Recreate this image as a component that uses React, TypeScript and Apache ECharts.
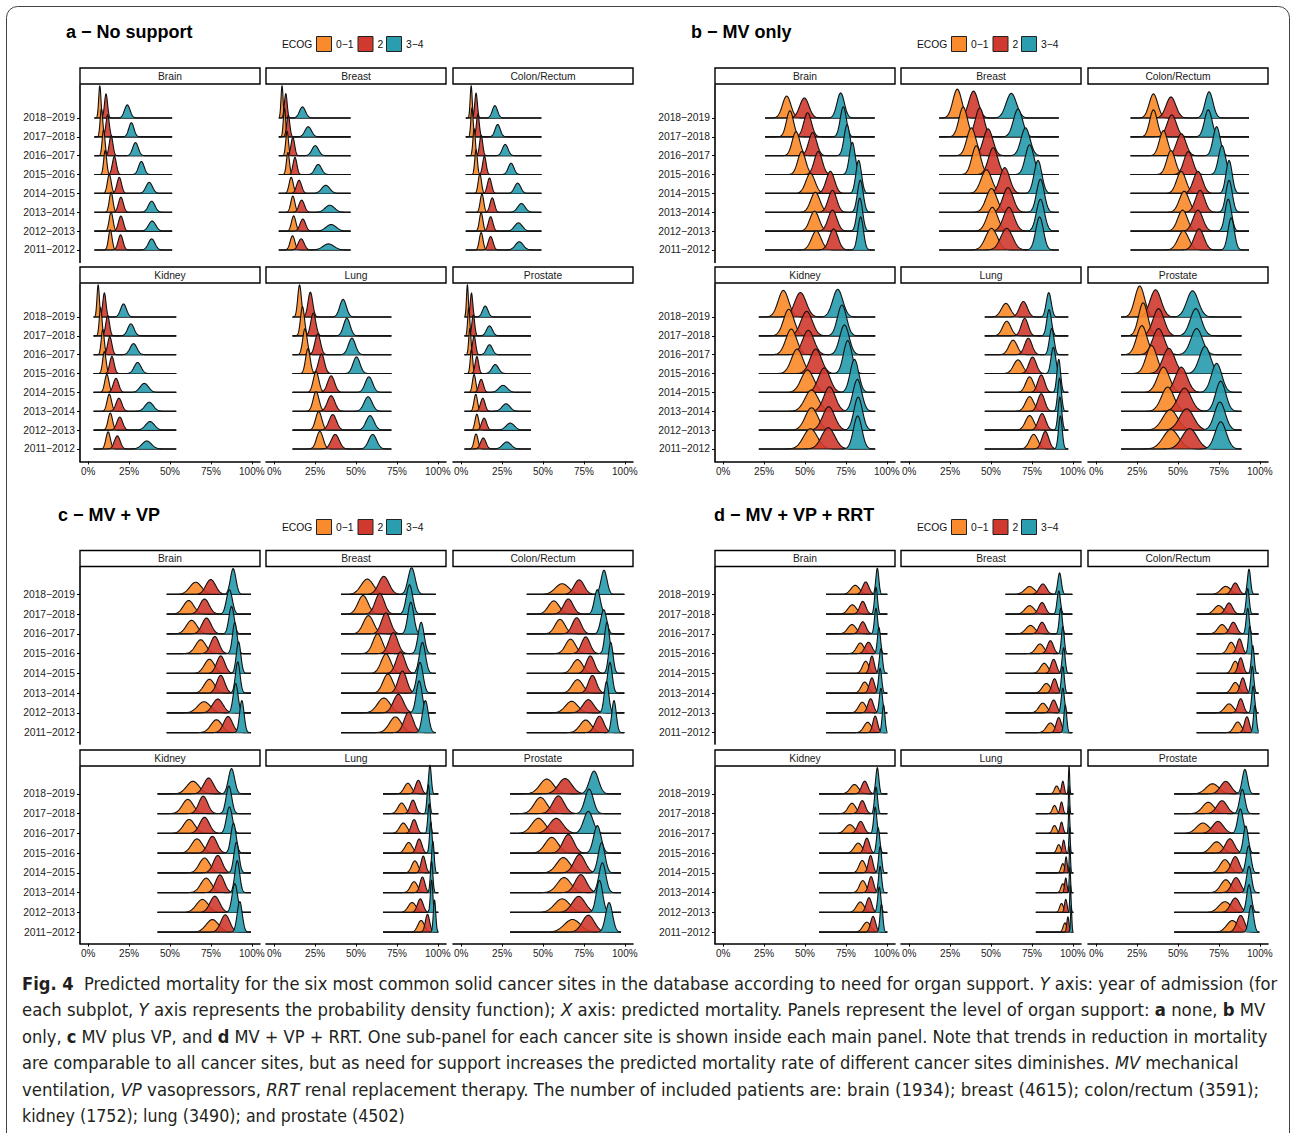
import React, { useEffect, useRef } from "react";
import * as echarts from "echarts";

// ---------- categories ----------
const YEARS = ["2011−2012", "2012−2013", "2013−2014", "2014−2015", "2015−2016", "2016−2017", "2017−2018", "2018−2019"];
const SITES = ["Brain", "Breast", "Colon/Rectum", "Kidney", "Lung", "Prostate"];
const ECOG_LEVELS = ["0−1", "2", "3−4"];
const X_TICKS = [0, 25, 50, 75, 100];
const Y_TICKS = [0, 1, 2, 3, 4, 5, 6, 7];
const PANEL_TITLES = ["a − No support", "b − MV only", "c − MV + VP", "d − MV + VP + RRT"];

// ---------- data: mode (%) and spread (sd, %) of predicted mortality, per ECOG [0−1, 2, 3−4], years 2011−2012 … 2018−2019 ----------
// Panel a – No support
const A_BRAIN_MODE = [[13.5, 14, 14, 12.9, 10.4, 9.4, 8.1, 7.1], [19.8, 20, 20, 19, 16, 14, 11.9, 10.9], [38.8, 39.1, 38.8, 37.3, 32.5, 28.9, 26.4, 23.9]];
const A_BRAIN_SD = [[1.1, 1.16, 1.1, 1.16, 0.92, 0.85, 0.79, 0.69], [1.47, 1.47, 1.47, 1.38, 1.22, 1.1, 1.0, 0.92], [2.0, 2.2, 2.0, 2.0, 1.69, 1.69, 1.57, 1.69]];
const A_BRAIN_RANGE = [3.8, 51.3];
const A_BREAST_MODE = [[11.2, 11.9, 11.4, 10.4, 8.4, 7.9, 6.3, 4.8], [16.5, 17.5, 16.8, 15.2, 12.7, 11.4, 8.6, 7.1], [33.2, 34.8, 34, 31.5, 26.9, 25.1, 20.8, 17.3]];
const A_BREAST_SD = [[1.43, 1.33, 1.25, 1.25, 0.91, 0.83, 0.71, 0.63], [1.82, 1.67, 1.67, 1.54, 1.18, 1.11, 0.95, 0.83], [3.33, 3.08, 2.86, 2.5, 2.0, 2.0, 2.0, 1.82]];
const A_BREAST_RANGE = [2.8, 46.7];
const A_COLON_MODE = [[12.2, 12.2, 12.7, 11.4, 9.1, 7.9, 6.6, 6.1], [18, 18, 19, 17.3, 14.2, 12.2, 10.2, 9.1], [35.5, 35, 36.8, 34.5, 30.5, 26.9, 22.3, 20.6]];
const A_COLON_SD = [[1.12, 1.06, 1.06, 1.0, 0.79, 0.73, 0.68, 0.61], [1.46, 1.36, 1.36, 1.27, 1.06, 0.95, 0.86, 0.79], [2.38, 2.38, 2.24, 1.9, 1.73, 1.73, 1.58, 1.58]];
const A_COLON_RANGE = [2.8, 49];
const A_KIDNEY_MODE = [[12.2, 13.5, 12.9, 11.4, 9.9, 8.9, 7.6, 6.1], [17.8, 19.3, 18.8, 17, 14.5, 13.2, 11.9, 9.9], [35.8, 37.8, 37.3, 34.3, 30.2, 27.7, 26.1, 21.6]];
const A_KIDNEY_SD = [[1.35, 1.35, 1.35, 1.28, 1.05, 0.92, 0.82, 0.72], [1.77, 1.77, 1.77, 1.64, 1.35, 1.28, 1.15, 0.96], [2.88, 2.71, 2.56, 2.56, 2.09, 2.09, 1.92, 1.77]];
const A_KIDNEY_RANGE = [3.3, 53.8];
const A_LUNG_MODE = [[27.9, 27.2, 25.6, 25.6, 20.6, 18.8, 17.3, 15.5], [37.3, 35.8, 34.8, 34.8, 28.9, 26.6, 23.9, 22.1], [60.2, 58.6, 57.4, 57.9, 50.3, 47.5, 44.4, 42.1]];
const A_LUNG_SD = [[2.0, 1.89, 1.79, 1.7, 1.42, 1.36, 1.21, 1.1], [2.43, 2.27, 2.27, 2.13, 1.79, 1.7, 1.55, 1.42], [2.43, 2.43, 2.43, 2.27, 2.13, 2.13, 2.0, 2.0]];
const A_LUNG_RANGE = [11.2, 71.6];
const A_PROSTATE_MODE = [[9.1, 9.6, 8.9, 7.9, 6.3, 5.3, 4.6, 3.8], [13.5, 14, 13.2, 12.2, 9.6, 7.9, 7.4, 6.3], [27.9, 30, 27.4, 25.6, 20.8, 17.3, 17.3, 14.7]];
const A_PROSTATE_SD = [[1.2, 1.13, 1.06, 1.0, 0.75, 0.69, 0.64, 0.56], [1.64, 1.5, 1.38, 1.38, 1.06, 0.95, 0.86, 0.75], [2.57, 2.57, 2.4, 2.57, 2.0, 1.8, 1.8, 1.64]];
const A_PROSTATE_RANGE = [2, 42.6];

// Panel b – MV only
const B_BRAIN_MODE = [[56.9, 55.8, 56.3, 53.3, 48, 44.5, 40.8, 38.8], [67.5, 66.8, 66.8, 65.5, 58.1, 54.7, 51.6, 49.6], [84, 83.5, 83.8, 82.8, 78.9, 75.7, 73.4, 71.8]];
const B_BRAIN_SD = [[2.95, 2.8, 2.8, 2.8, 2.43, 2.33, 2.15, 2.55], [2.67, 2.67, 2.55, 2.55, 2.43, 2.43, 2.33, 2.8], [1.7, 1.7, 1.75, 1.7, 1.75, 1.81, 1.87, 2.24]];
const B_BRAIN_RANGE = [25.6, 92.6];
const B_BREAST_MODE = [[50.3, 50.8, 50.3, 47.2, 41, 38, 33, 29.4], [59.6, 60.9, 60.4, 58.4, 51.3, 48.2, 43.1, 39.3], [79.7, 80.2, 80.2, 78.7, 73.6, 71.1, 66.5, 62.4]];
const B_BREAST_SD = [[3.57, 3.26, 3.26, 3.26, 2.68, 2.78, 2.59, 2.68], [3.57, 3.26, 3.13, 3.0, 2.88, 2.88, 2.68, 2.88], [2.34, 2.42, 2.34, 2.34, 2.59, 2.78, 2.78, 3.13]];
const B_BREAST_RANGE = [18.3, 91.4];
const B_COLON_MODE = [[53.3, 52.8, 53.8, 52, 45.7, 41.1, 35, 35], [62.9, 62.2, 63.5, 62.2, 56.3, 52, 46.2, 45.7], [82.5, 80.7, 81.2, 81.2, 76.9, 73.6, 68.5, 69]];
const B_COLON_SD = [[3.26, 2.95, 2.95, 2.82, 2.58, 2.48, 2.3, 2.58], [2.95, 2.95, 2.82, 2.82, 2.7, 2.82, 2.82, 2.95], [1.94, 1.94, 1.94, 1.88, 2.14, 2.14, 2.3, 2.38]];
const B_COLON_RANGE = [21, 93.4];
const B_KIDNEY_MODE = [[53.3, 54, 54, 51.5, 45.2, 41.6, 40.1, 36.8], [64.2, 64.5, 65, 61.7, 56.6, 52, 51, 47.2], [82.2, 82.5, 82, 80.2, 76.1, 74.1, 72.6, 70]];
const B_KIDNEY_SD = [[4.21, 3.81, 4.0, 3.81, 3.48, 3.33, 3.2, 3.2], [4.0, 3.64, 3.48, 3.48, 3.48, 3.48, 3.48, 3.48], [2.58, 2.58, 2.67, 2.58, 2.58, 2.86, 2.76, 3.08]];
const B_KIDNEY_RANGE = [21.8, 92.9];
const B_LUNG_MODE = [[76.1, 73.6, 73.6, 73.6, 66.5, 63.5, 59.6, 59.1], [83.2, 81.2, 80.7, 80.7, 75.4, 72.8, 70.6, 69.8], [92.4, 92.1, 91.9, 91.4, 88.1, 87.1, 85.5, 85.3]];
const B_LUNG_SD = [[2.53, 2.53, 2.53, 2.38, 2.71, 2.53, 2.53, 2.71], [2.11, 2.24, 2.11, 2.11, 2.24, 2.24, 2.11, 2.38], [1.12, 1.12, 1.12, 1.12, 1.41, 1.41, 1.41, 1.52]];
const B_LUNG_RANGE = [46.2, 97.2];
const B_PROSTATE_MODE = [[45.7, 45.2, 43.7, 41.1, 33.8, 27.9, 28.7, 26.6], [57.1, 55.3, 54, 52, 44.4, 38.1, 38.1, 36.3], [76.1, 75.6, 76.1, 73.6, 66.5, 61.4, 60.9, 58.9]];
const B_PROSTATE_SD = [[4.75, 4.52, 3.8, 3.65, 3.28, 3.17, 2.79, 2.97], [4.52, 4.32, 3.96, 3.65, 3.65, 3.52, 3.39, 3.39], [3.39, 3.28, 3.06, 3.17, 3.39, 3.52, 3.39, 3.52]];
const B_PROSTATE_RANGE = [15.2, 88.8];

// Panel c – MV + VP
const C_BRAIN_MODE = [[78.4, 70.8, 74.1, 74.1, 68.8, 63.2, 61.4, 65.7], [85.5, 79.2, 81, 81, 77.4, 72.3, 71.1, 74.9], [93.9, 90.1, 91.4, 91.9, 89.6, 87.6, 86.3, 88.6]];
const C_BRAIN_SD = [[3.38, 3.89, 3.14, 3.08, 3.14, 3.21, 3.21, 3.58], [2.7, 3.14, 2.44, 2.49, 2.54, 2.75, 2.88, 2.93], [1.36, 1.48, 1.39, 1.38, 1.41, 1.59, 1.78, 1.69]];
const C_BRAIN_RANGE = [48, 99.5];
const C_BREAST_MODE = [[74.1, 67, 69.5, 68.3, 63.2, 57.6, 54.3, 56.9], [82.2, 75.9, 78.4, 77.2, 72.8, 68.3, 64.5, 67], [92.4, 88.6, 89.1, 90.6, 89.8, 83.5, 82.7, 84]];
const C_BREAST_SD = [[3.65, 3.85, 2.99, 2.94, 2.89, 3.13, 3.07, 3.76], [2.78, 3.07, 2.59, 2.67, 2.73, 2.73, 2.78, 3.18], [1.79, 1.79, 1.87, 1.85, 1.83, 1.81, 1.95, 2.15]];
const C_BREAST_RANGE = [40.9, 98.7];
const C_COLON_MODE = [[76.1, 67.5, 71.1, 71.1, 66.8, 60.4, 56.6, 61.7], [84.5, 77.7, 80.2, 78.9, 76.1, 70.6, 65.5, 72.1], [93.4, 88.8, 90.9, 91.4, 89.1, 87.1, 83.2, 87.3]];
const C_COLON_SD = [[3.46, 3.75, 3.21, 3.15, 3.0, 3.0, 3.28, 4.09], [2.65, 3.28, 2.46, 2.5, 2.6, 2.69, 2.87, 3.0], [1.36, 1.39, 1.42, 1.41, 1.39, 1.8, 1.78, 1.8]];
const C_COLON_RANGE = [40.1, 99.7];
const C_KIDNEY_MODE = [[75.9, 69.8, 72.1, 71.1, 66.5, 61.7, 60.9, 64], [83.8, 77.4, 80.5, 79.2, 75.9, 71.1, 70.3, 73.6], [92.6, 89.6, 91.1, 90.6, 88.8, 86.3, 86, 87.6]];
const C_KIDNEY_SD = [[3.76, 3.65, 3.27, 3.18, 3.33, 3.4, 3.33, 3.76], [2.73, 2.94, 2.67, 2.73, 2.82, 2.94, 2.73, 2.99], [1.55, 1.65, 1.48, 1.55, 1.58, 1.79, 1.72, 1.87]];
const C_KIDNEY_RANGE = [42.4, 99.5];
const C_LUNG_MODE = [[89.8, 84.3, 85.5, 86, 82.2, 78.9, 77.9, 81.7], [93.7, 89.3, 90.6, 91.1, 88.6, 85.5, 84.8, 88.1], [98, 96.2, 96.2, 97, 95.7, 94.7, 94.2, 95.2]];
const C_LUNG_SD = [[2.0, 2.37, 2.14, 1.95, 2.2, 2.27, 2.2, 2.2], [1.32, 1.73, 1.5, 1.4, 1.65, 1.69, 1.73, 1.73], [0.73, 0.73, 0.75, 0.74, 0.75, 0.79, 0.81, 0.82]];
const C_LUNG_RANGE = [66.5, 100.3];
const C_PROSTATE_MODE = [[68, 61.7, 62.9, 62.4, 55.3, 47.2, 48.5, 52.3], [77.7, 71.8, 73.1, 72.3, 65.5, 58.1, 59.4, 63.5], [90.4, 84.5, 86.3, 85.8, 83.2, 77.7, 78.2, 81.2]];
const C_PROSTATE_SD = [[4.9, 4.58, 4.12, 4.05, 3.95, 4.12, 3.83, 4.19], [3.68, 3.89, 3.45, 3.38, 3.33, 4.12, 3.5, 4.05], [2.1, 1.94, 2.08, 2.06, 2.26, 2.83, 2.53, 2.72]];
const C_PROSTATE_RANGE = [29.9, 97.7];

// Panel d – MV + VP + RRT
const D_BRAIN_MODE = [[88.3, 85, 86.5, 87.1, 83.8, 78.7, 78.9, 80.7], [92.9, 90.1, 90.9, 90.9, 88.8, 85.3, 85.3, 87.1], [98, 96.4, 95.9, 96.4, 95.2, 93.4, 93.4, 94.2]];
const D_BRAIN_SD = [[2.3, 2.23, 2.15, 1.97, 2.23, 2.56, 2.56, 2.64], [1.44, 1.68, 1.56, 1.38, 2.09, 1.97, 1.87, 1.92], [0.86, 0.97, 0.96, 0.96, 0.91, 0.93, 0.89, 0.91]];
const D_BRAIN_RANGE = [62.9, 100.3];
const D_BREAST_MODE = [[86.3, 81.7, 83.8, 82.5, 79.9, 74.1, 73.6, 73.6], [91.4, 88.3, 88.8, 88.3, 86.3, 81.2, 81.2, 81.7], [95.4, 93.9, 93.9, 94.4, 93.9, 92.6, 91.4, 91.9]];
const D_BREAST_SD = [[2.43, 2.43, 2.43, 2.34, 2.43, 2.78, 2.78, 3.01], [1.56, 1.82, 1.63, 1.67, 1.82, 2.03, 2.03, 2.27], [0.85, 0.95, 0.89, 0.92, 0.87, 0.92, 1.01, 1.1]];
const D_BREAST_RANGE = [58.9, 99.7];
const D_COLON_MODE = [[86.5, 81.2, 85, 85, 82.5, 76.9, 74.9, 79.2], [92.1, 88.3, 89.6, 88.3, 87.6, 83.8, 81.2, 85], [97, 95.9, 95.4, 95.7, 93.9, 92.6, 92.6, 93.4]];
const D_COLON_SD = [[2.23, 2.64, 2.23, 1.97, 2.09, 2.56, 2.77, 2.99], [1.5, 1.68, 1.56, 1.53, 1.61, 2.04, 2.15, 2.09], [0.88, 0.89, 0.89, 0.86, 0.87, 0.93, 0.93, 0.95]];
const D_COLON_RANGE = [61.4, 99.2];
const D_KIDNEY_MODE = [[87.8, 83.8, 85.3, 85, 82.5, 77.4, 78.7, 80.2], [91.6, 89.1, 90.4, 90.1, 87.8, 84, 85, 86.5], [96.7, 95.4, 95.9, 95.9, 94.7, 92.9, 93.4, 94.2]];
const D_KIDNEY_SD = [[2.4, 2.33, 2.0, 1.95, 2.4, 2.76, 2.33, 2.58], [1.53, 1.63, 1.5, 1.39, 1.6, 2.0, 1.85, 1.89], [0.87, 0.95, 0.92, 0.91, 0.95, 0.92, 0.91, 0.92]];
const D_KIDNEY_RANGE = [58.6, 100.3];
const D_LUNG_MODE = [[95.2, 93.1, 93.9, 93.9, 91.4, 88.8, 88.8, 90.1], [97, 95.7, 95.7, 95.9, 94.4, 93.1, 93.1, 93.9], [99, 98.5, 98.2, 98.2, 98, 97.7, 97.7, 97.7]];
const D_LUNG_SD = [[1.11, 1.15, 1.15, 1.11, 1.2, 1.3, 1.25, 1.3], [0.67, 0.79, 0.7, 0.64, 0.79, 0.91, 0.88, 0.81], [0.39, 0.38, 0.4, 0.39, 0.4, 0.38, 0.38, 0.37]];
const D_LUNG_RANGE = [77.4, 100.3];
const D_PROSTATE_MODE = [[83.2, 78.7, 79.2, 78.7, 73.6, 65.2, 68.5, 71.1], [88.3, 85, 85.5, 85, 81.7, 74.4, 76.9, 79.2], [94.7, 93.4, 93.4, 93.1, 91.4, 88.1, 89.3, 90.9]];
const D_PROSTATE_SD = [[3.41, 3.72, 3.07, 3.0, 3.5, 3.82, 3.5, 3.93], [2.37, 2.75, 2.63, 2.43, 2.75, 3.31, 3.07, 3.16], [1.48, 1.43, 1.5, 1.48, 1.46, 1.62, 1.63, 1.62]];
const D_PROSTATE_RANGE = [47.7, 99.7];

const PANEL_DATA = [
  [
    { mode: A_BRAIN_MODE, sd: A_BRAIN_SD, range: A_BRAIN_RANGE },
    { mode: A_BREAST_MODE, sd: A_BREAST_SD, range: A_BREAST_RANGE },
    { mode: A_COLON_MODE, sd: A_COLON_SD, range: A_COLON_RANGE },
    { mode: A_KIDNEY_MODE, sd: A_KIDNEY_SD, range: A_KIDNEY_RANGE },
    { mode: A_LUNG_MODE, sd: A_LUNG_SD, range: A_LUNG_RANGE },
    { mode: A_PROSTATE_MODE, sd: A_PROSTATE_SD, range: A_PROSTATE_RANGE },
  ],
  [
    { mode: B_BRAIN_MODE, sd: B_BRAIN_SD, range: B_BRAIN_RANGE },
    { mode: B_BREAST_MODE, sd: B_BREAST_SD, range: B_BREAST_RANGE },
    { mode: B_COLON_MODE, sd: B_COLON_SD, range: B_COLON_RANGE },
    { mode: B_KIDNEY_MODE, sd: B_KIDNEY_SD, range: B_KIDNEY_RANGE },
    { mode: B_LUNG_MODE, sd: B_LUNG_SD, range: B_LUNG_RANGE },
    { mode: B_PROSTATE_MODE, sd: B_PROSTATE_SD, range: B_PROSTATE_RANGE },
  ],
  [
    { mode: C_BRAIN_MODE, sd: C_BRAIN_SD, range: C_BRAIN_RANGE },
    { mode: C_BREAST_MODE, sd: C_BREAST_SD, range: C_BREAST_RANGE },
    { mode: C_COLON_MODE, sd: C_COLON_SD, range: C_COLON_RANGE },
    { mode: C_KIDNEY_MODE, sd: C_KIDNEY_SD, range: C_KIDNEY_RANGE },
    { mode: C_LUNG_MODE, sd: C_LUNG_SD, range: C_LUNG_RANGE },
    { mode: C_PROSTATE_MODE, sd: C_PROSTATE_SD, range: C_PROSTATE_RANGE },
  ],
  [
    { mode: D_BRAIN_MODE, sd: D_BRAIN_SD, range: D_BRAIN_RANGE },
    { mode: D_BREAST_MODE, sd: D_BREAST_SD, range: D_BREAST_RANGE },
    { mode: D_COLON_MODE, sd: D_COLON_SD, range: D_COLON_RANGE },
    { mode: D_KIDNEY_MODE, sd: D_KIDNEY_SD, range: D_KIDNEY_RANGE },
    { mode: D_LUNG_MODE, sd: D_LUNG_SD, range: D_LUNG_RANGE },
    { mode: D_PROSTATE_MODE, sd: D_PROSTATE_SD, range: D_PROSTATE_RANGE },
  ],
];

// ---------- caption ----------
const CAPTION_LINES = [
  [["Fig. 4", "b"], ["  Predicted mortality for the six most common solid cancer sites in the database according to need for organ support. ", "n"], ["Y", "i"], [" axis: year of admission (for", "n"]],
  [["each subplot, ", "n"], ["Y", "i"], [" axis represents the probability density function); ", "n"], ["X", "i"], [" axis: predicted mortality. Panels represent the level of organ support: ", "n"], ["a", "b"], [" none, ", "n"], ["b", "b"], [" MV", "n"]],
  [["only, ", "n"], ["c", "b"], [" MV plus VP, and ", "n"], ["d", "b"], [" MV + VP + RRT. One sub-panel for each cancer site is shown inside each main panel. Note that trends in reduction in mortality", "n"]],
  [["are comparable to all cancer sites, but as need for support increases the predicted mortality rate of different cancer sites diminishes. ", "n"], ["MV", "i"], [" mechanical", "n"]],
  [["ventilation, ", "n"], ["VP", "i"], [" vasopressors, ", "n"], ["RRT", "i"], [" renal replacement therapy. The number of included patients are: brain (1934); breast (4615); colon/rectum (3591);", "n"]],
  [["kidney (1752); lung (3490); and prostate (4502)", "n"]],
];

// ---------- layout / style ----------
const W = 1291;
const H = 1133;
const SANS = "'Liberation Sans', Arial, Helvetica, sans-serif";
const FILLS = ["rgba(250,139,44,0.92)", "rgba(208,58,46,0.9)", "rgba(42,157,175,0.92)"];
const SOLIDS = ["#FA8B2C", "#D03A2E", "#2A9DAF"];
const COL_X = [80, 266, 453];
const COL_W = 180;
const STRIP_H = 16;
const PANEL_POS = [
  { dx: 0, titleX: 66, titleY: 32, legendY: 44, rows: [85, 284], gridH: 177.4, ymin: -0.66, ymax: 8.75, scale: 1.7 },
  { dx: 635, titleX: 691, titleY: 32, legendY: 44, rows: [85, 284], gridH: 177.4, ymin: -0.66, ymax: 8.75, scale: 1.75 },
  { dx: 0, titleX: 58, titleY: 514.5, legendY: 527, rows: [567.5, 767], gridH: 176.6, ymin: -0.58, ymax: 8.36, scale: 1.62 },
  { dx: 635, titleX: 714, titleY: 514.5, legendY: 527, rows: [567.5, 767], gridH: 176.6, ymin: -0.58, ymax: 8.36, scale: 1.4 },
];
const CAPTION_X = 22;
const CAPTION_Y = [983, 1009.5, 1036, 1062.5, 1089, 1115.5];
const CAPTION_END = [1278, 1266, 1268, 1240, 1260, 405];

let measureCtx: CanvasRenderingContext2D | null = null;
function textWidth(str: string, font: string) {
  if (!measureCtx) measureCtx = document.createElement("canvas").getContext("2d");
  measureCtx!.font = font;
  return measureCtx!.measureText(str).width;
}
function hasFont(name: string) {
  const t = "abcdefghijklmnopqrstuvwxyz ABCDEFGHIJ 0123456789";
  const a = textWidth(t, "20px monospace");
  const b = textWidth(t, `20px '${name}', monospace`);
  return Math.abs(a - b) > 0.5;
}
function segFont(kind: string, size: number, fam: string) {
  const st = kind === "i" ? "italic " : "";
  const wt = kind === "b" ? "bold " : "";
  return `${st}${wt}${size}px ${fam}`;
}
function lineWidth(line: any[], size: number, fam: string) {
  return line.reduce((s, seg) => s + textWidth(seg[0], segFont(seg[1], size, fam)), 0);
}

function makeRender(range: number[], sdMin: number, scale: number) {
  const lo = range[0];
  const hi = range[1];
  return (params: any, api: any) => {
    const yr = api.value(0);
    const e = api.value(1);
    const m = api.value(2);
    const s = api.value(3);
    const ht = (x: number) => scale * (sdMin / s) * Math.exp(-0.5 * ((x - m) / s) * ((x - m) / s));
    const a = Math.max(lo, m - 5 * s);
    const b = Math.min(hi, m + 5 * s);
    const pts: number[][] = [];
    if (a >= b) {
      pts.push([lo, yr + ht(lo)], [hi, yr + ht(hi)]);
    } else {
      if (a > lo) pts.push([lo, yr + ht(lo)]);
      const N = 90;
      for (let i = 0; i <= N; i++) {
        const x = a + ((b - a) * i) / N;
        pts.push([x, yr + ht(x)]);
      }
      if (b < hi) pts.push([hi, yr + ht(hi)]);
    }
    const line = pts.map((p) => api.coord(p));
    const poly = [api.coord([lo, yr]), ...line, api.coord([hi, yr])];
    return {
      type: "group",
      children: [
        { type: "polygon", shape: { points: poly }, style: { fill: FILLS[e], stroke: null } },
        { type: "polyline", shape: { points: line }, style: { stroke: "#111", lineWidth: 1.1, fill: null } },
      ],
    };
  };
}

function buildOption() {
  const grid: any[] = [];
  const xAxis: any[] = [];
  const yAxis: any[] = [];
  const series: any[] = [];
  const graphic: any[] = [];

  graphic.push({
    type: "rect",
    shape: { x: 6.5, y: 6.5, width: 1283, height: 1160, r: 11 },
    style: { fill: "none", stroke: "#444", lineWidth: 1 },
    silent: true,
  });

  let gi = 0;
  PANEL_POS.forEach((L, p) => {
    graphic.push({
      type: "text",
      x: L.titleX,
      y: L.titleY,
      style: { text: PANEL_TITLES[p], fontFamily: SANS, fontWeight: "bold", fontSize: 18, fill: "#000", verticalAlign: "middle" },
    });
    // legend
    const lx = L.dx;
    graphic.push({ type: "text", x: lx + 282, y: L.legendY, style: { text: "ECOG", fontFamily: SANS, fontSize: 10.3, fill: "#111", verticalAlign: "middle" } });
    const boxX = [316.5, 358, 386.5];
    const labX = [336, 377.5, 406];
    ECOG_LEVELS.forEach((lab, e) => {
      graphic.push({
        type: "rect",
        shape: { x: lx + boxX[e], y: L.legendY - 7.5, width: 15, height: 15 },
        style: { fill: SOLIDS[e], stroke: "#222", lineWidth: 1 },
      });
      graphic.push({ type: "text", x: lx + labX[e], y: L.legendY, style: { text: lab, fontFamily: SANS, fontSize: 10.3, fill: "#111", verticalAlign: "middle" } });
    });

    PANEL_DATA[p].forEach((d, s) => {
      const row = Math.floor(s / 3);
      const col = s % 3;
      const left = L.dx + COL_X[col];
      const top = L.rows[row];
      const isBottom = row === 1;
      const isFirst = col === 0;
      // strip
      graphic.push({
        type: "rect",
        shape: { x: left, y: top - STRIP_H - 1, width: COL_W, height: STRIP_H },
        style: { fill: "#fff", stroke: "#000", lineWidth: 1.4 },
      });
      graphic.push({
        type: "text",
        x: left + COL_W / 2,
        y: top - STRIP_H / 2 - 1,
        style: { text: SITES[s], fontFamily: SANS, fontSize: 10.3, fill: "#1a1a1a", align: "center", verticalAlign: "middle" },
      });

      grid.push({ left, top, width: COL_W, height: L.gridH, containLabel: false });
      xAxis.push({
        gridIndex: gi,
        type: "value",
        min: -5,
        max: 105,
        axisLine: { show: isBottom, onZero: false, lineStyle: { color: "#000", width: 1.6 } },
        axisTick: { show: isBottom, length: 3, customValues: X_TICKS, lineStyle: { color: "#000", width: 1 } },
        axisLabel: {
          show: isBottom,
          customValues: X_TICKS,
          formatter: "{value}%",
          fontFamily: SANS,
          fontSize: 10,
          color: "#222",
          margin: 5,
        },
        splitLine: { show: false },
      });
      yAxis.push({
        gridIndex: gi,
        type: "value",
        min: L.ymin,
        max: L.ymax,
        axisLine: { show: isFirst, onZero: false, lineStyle: { color: "#000", width: 1.6 } },
        axisTick: { show: isFirst, length: 3, customValues: Y_TICKS, lineStyle: { color: "#000", width: 1 } },
        axisLabel: {
          show: isFirst,
          customValues: Y_TICKS,
          formatter: (v: number) => YEARS[Math.round(v)] || "",
          fontFamily: SANS,
          fontSize: 10.3,
          color: "#222",
          margin: 5,
        },
        splitLine: { show: false },
      });

      const items: number[][] = [];
      for (let yr = YEARS.length - 1; yr >= 0; yr--) {
        for (let e = 0; e < 3; e++) items.push([yr, e, d.mode[e][yr], d.sd[e][yr]]);
      }
      const sdMin = Math.min(...d.sd.map((r) => Math.min(...r)));
      series.push({
        type: "custom",
        xAxisIndex: gi,
        yAxisIndex: gi,
        data: items,
        dimensions: ["year", "ecog", "mode", "sd"],
        encode: { x: 2, y: 0 },
        renderItem: makeRender(d.range, sdMin, L.scale),
        silent: true,
        clip: false,
      });
      gi++;
    });
  });

  // caption
  const fam = hasFont("Liberation Sans Narrow")
    ? "'Liberation Sans Narrow'"
    : hasFont("DejaVu Sans Condensed")
    ? "'DejaVu Sans Condensed'"
    : "'Liberation Sans'";
  const last = CAPTION_LINES.length - 1;
  const baseSize = (20 * (CAPTION_END[last] - CAPTION_X)) / lineWidth(CAPTION_LINES[last], 20, fam);
  CAPTION_LINES.forEach((line, i) => {
    let size = (20 * (CAPTION_END[i] - CAPTION_X)) / lineWidth(line, 20, fam);
    size = Math.max(baseSize * 0.95, Math.min(baseSize * 1.05, size));
    const text = line.map((seg) => `{${seg[1]}|${seg[0]}}`).join("");
    graphic.push({
      type: "text",
      x: CAPTION_X,
      y: CAPTION_Y[i],
      style: {
        text,
        verticalAlign: "middle",
        fill: "#231F20",
        fontFamily: fam,
        fontSize: size,
        rich: {
          n: { fontFamily: fam, fontSize: size, fill: "#231F20" },
          b: { fontFamily: fam, fontSize: size, fontWeight: "bold", fill: "#231F20" },
          i: { fontFamily: fam, fontSize: size, fontStyle: "italic", fill: "#231F20" },
        },
      },
    });
  });

  return { animation: false, backgroundColor: "#fff", grid, xAxis, yAxis, series, graphic };
}

export default function App() {
  const ref = useRef<HTMLDivElement>(null);
  useEffect(() => {
    if (!ref.current) return;
    const chart = echarts.init(ref.current, undefined, { renderer: "svg", width: W, height: H });
    chart.setOption(buildOption() as any);
    return () => chart.dispose();
  }, []);
  return <div ref={ref} style={{ position: "absolute", left: 0, top: 0, width: W, height: H, background: "#fff" }} />;
}
